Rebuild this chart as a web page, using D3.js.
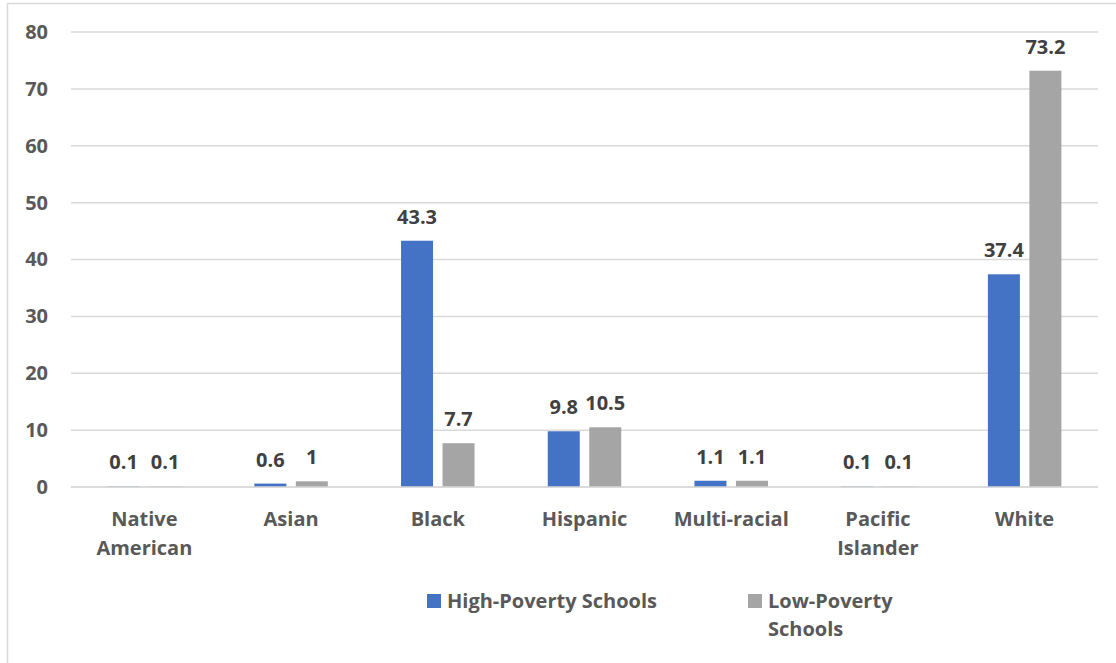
<!DOCTYPE html>
<html>
<head>
<meta charset="utf-8">
<script src="https://cdn.jsdelivr.net/npm/d3@7"></script>
<style>
  body { margin: 0; background: #fff; }
  text { font-family: "Open Sans", sans-serif; font-weight: 700; }
</style>
</head>
<body>
<div id="chart"></div>
<script>
// chart data
var categories = [["Native", "American"], ["Asian"], ["Black"], ["Hispanic"], ["Multi-racial"], ["Pacific", "Islander"], ["White"]];
var highPoverty = [0.1, 0.6, 43.3, 9.8, 1.1, 0.1, 37.4];
var lowPoverty = [0.1, 1, 7.7, 10.5, 1.1, 0.1, 73.2];
var seriesNames = ["High-Poverty Schools", ["Low-Poverty", "Schools"]];
var yTicks = [0, 10, 20, 30, 40, 50, 60, 70, 80];

var svgWidth = 1116;
var svgHeight = 663;

var margin = { top: 32, right: 18, bottom: 176, left: 71 };
var width = svgWidth - margin.left - margin.right;
var height = svgHeight - margin.top - margin.bottom;

var svg = d3.select("#chart")
  .append("svg")
  .attr("width", svgWidth)
  .attr("height", svgHeight);

// chart area border (only top and left show in the crop)
svg.append("path")
  .attr("d", "M7.5,663 L7.5,3.5 L1116,3.5")
  .attr("fill", "none")
  .attr("stroke", "#d9d9d9")
  .attr("stroke-width", 1.5);

var g = svg.append("g")
  .attr("transform", `translate(${margin.left}, ${margin.top})`);

var x0 = d3.scaleBand()
  .domain(d3.range(categories.length))
  .range([0, width]);

var y = d3.scaleLinear()
  .domain([0, 80])
  .range([height, 0]);

// gridlines
g.selectAll(".grid")
  .data(yTicks)
  .enter()
  .append("line")
  .attr("x1", 0)
  .attr("x2", width)
  .attr("y1", d => y(d))
  .attr("y2", d => y(d))
  .attr("stroke", "#d9d9d9")
  .attr("stroke-width", 1.5);

var yAxis = d3.axisLeft(y).tickValues(yTicks).tickSize(0).tickPadding(23);
var yG = g.append("g").call(yAxis);
yG.select(".domain").remove();
yG.selectAll("text")
  .attr("fill", "#595959")
  .style("font-size", "20px");

var barW = 32;
var gap = 9.5;

var series = [
  { values: highPoverty, color: "#4472c4", offset: -(gap / 2 + barW) },
  { values: lowPoverty, color: "#a5a5a5", offset: gap / 2 }
];

series.forEach(function(s) {
  g.selectAll(null)
    .data(s.values)
    .enter()
    .append("rect")
    .attr("x", (d, i) => x0(i) + x0.bandwidth() / 2 + s.offset)
    .attr("y", d => y(d))
    .attr("width", barW)
    .attr("height", d => height - y(d))
    .attr("fill", s.color);

  g.selectAll(null)
    .data(s.values)
    .enter()
    .append("text")
    .attr("x", (d, i) => x0(i) + x0.bandwidth() / 2 + s.offset + barW / 2)
    .attr("y", d => y(d) - 17)
    .attr("text-anchor", "middle")
    .attr("fill", "#404040")
    .style("font-size", "20px")
    .text(d => d);
});

// x axis line on top of bars
g.append("line")
  .attr("x1", 0)
  .attr("x2", width)
  .attr("y1", height)
  .attr("y2", height)
  .attr("stroke", "#d9d9d9")
  .attr("stroke-width", 1.5);

// category labels
var catLabels = g.selectAll(".cat")
  .data(categories)
  .enter()
  .append("text")
  .attr("text-anchor", "middle")
  .attr("fill", "#595959")
  .style("font-size", "20px")
  .attr("transform", (d, i) => `translate(${x0(i) + x0.bandwidth() / 2}, ${height + 39})`);

catLabels.selectAll("tspan")
  .data(d => d)
  .enter()
  .append("tspan")
  .attr("x", 0)
  .attr("dy", (d, i) => i === 0 ? 0 : 29)
  .text(d => d);

// legend
var legend = [
  { x: 427, color: "#4472c4", lines: [seriesNames[0]] },
  { x: 748, color: "#a5a5a5", lines: seriesNames[1] }
];

legend.forEach(function(l) {
  svg.append("rect")
    .attr("x", l.x)
    .attr("y", 594)
    .attr("width", 14)
    .attr("height", 14)
    .attr("fill", l.color);

  var t = svg.append("text")
    .attr("x", l.x + 20)
    .attr("y", 608)
    .attr("fill", "#595959")
    .style("font-size", "20px");

  t.selectAll("tspan")
    .data(l.lines)
    .enter()
    .append("tspan")
    .attr("x", l.x + 20)
    .attr("dy", (d, i) => i === 0 ? 0 : 28)
    .text(d => d);
});
</script>
</body>
</html>
